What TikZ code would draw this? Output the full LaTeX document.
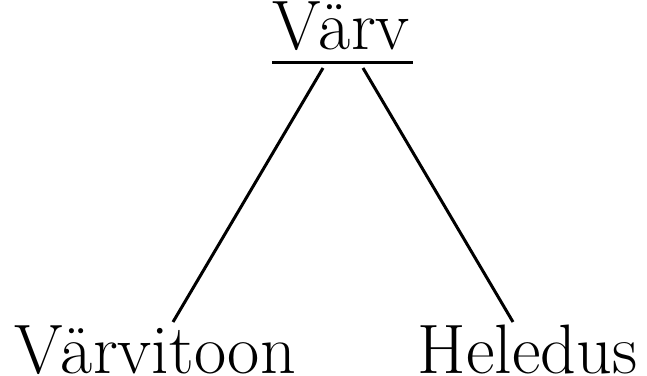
\documentclass[tikz,border=0pt]{standalone}
\begin{document}
\begin{tikzpicture}[x=1pt,y=1pt,
  lbl/.style={anchor=base,inner sep=0pt,font=\fontsize{70}{76}\selectfont},
  edge/.style={line width=3pt}]
\useasboundingbox (0,0) rectangle (647,375);
\node[lbl] (root) at (341,325) {Värv};
\node[lbl] (a) at (155,2) {Värvitoon};
\node[lbl] (b) at (527.5,2) {Heledus};
\coordinate (ul) at (272,312.5);
\coordinate (ur) at (413,312.5);
\draw[edge] (ul) -- (ur);
\coordinate (rl) at (323,307);
\coordinate (rr) at (363,307);
\coordinate (al) at (173,53);
\coordinate (bl) at (513,53);
\draw[edge] (rl) -- (al);
\draw[edge] (rr) -- (bl);
\end{tikzpicture}
\end{document}
